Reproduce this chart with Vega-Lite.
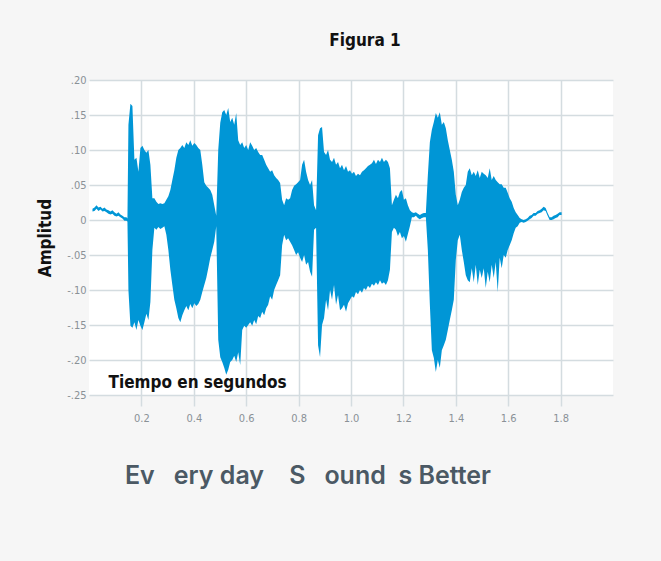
{
  "$schema": "https://vega.github.io/schema/vega-lite/v6.json",
  "background": "#f6f6f6",
  "padding": {"left": 36, "top": 32, "right": 49, "bottom": 50},
  "config": {
    "font": "DejaVu Sans Condensed, Liberation Sans Narrow, DejaVu Sans, sans-serif"
  },
  "spacing": 8,
  "vconcat": [
    {
      "width": 524,
      "height": 315,
      "title": {"text": "Figura 1", "fontSize": 17, "fontWeight": "bold", "color": "#111111", "frame": "group", "anchor": "middle", "dx": 14, "offset": 24},
      "view": {"fill": "white", "stroke": null},
      "data": {"values": [
        {"t":0.0133,"hi":0.016,"lo":0.012},{"t":0.0210,"hi":0.018,"lo":0.013},{"t":0.0286,"hi":0.021,"lo":0.016},{"t":0.0362,"hi":0.018,"lo":0.013},{"t":0.0438,"hi":0.019,"lo":0.015},{"t":0.0514,"hi":0.016,"lo":0.012},{"t":0.0590,"hi":0.018,"lo":0.013},{"t":0.0667,"hi":0.015,"lo":0.011},{"t":0.0743,"hi":0.014,"lo":0.009},{"t":0.0819,"hi":0.012,"lo":0.008},{"t":0.0895,"hi":0.014,"lo":0.009},{"t":0.0971,"hi":0.011,"lo":0.006},{"t":0.1048,"hi":0.009,"lo":0.005},{"t":0.1124,"hi":0.011,"lo":0.006},{"t":0.1200,"hi":0.008,"lo":0.004},{"t":0.1276,"hi":0.006,"lo":0.002},{"t":0.1352,"hi":0.004,"lo":-0.001},{"t":0.1429,"hi":0.004,"lo":-0.001},{"t":0.1467,"hi":0.002,"lo":-0.002},
        {"t":0.1505,"hi":0.136,"lo":-0.100},{"t":0.1581,"hi":0.166,"lo":-0.151},{"t":0.1657,"hi":0.163,"lo":-0.154},{"t":0.1733,"hi":0.086,"lo":-0.146},{"t":0.1810,"hi":0.089,"lo":-0.157},{"t":0.1886,"hi":0.069,"lo":-0.143},{"t":0.1962,"hi":0.103,"lo":-0.151},{"t":0.2038,"hi":0.106,"lo":-0.157},{"t":0.2114,"hi":0.100,"lo":-0.146},{"t":0.2190,"hi":0.096,"lo":-0.134},{"t":0.2267,"hi":0.100,"lo":-0.143},{"t":0.2343,"hi":0.079,"lo":-0.117},{"t":0.2419,"hi":0.031,"lo":-0.043},{"t":0.2495,"hi":0.031,"lo":-0.011},{"t":0.2571,"hi":0.026,"lo":-0.014},{"t":0.2648,"hi":0.023,"lo":-0.010},{"t":0.2724,"hi":0.024,"lo":-0.013},{"t":0.2800,"hi":0.023,"lo":-0.011},{"t":0.2876,"hi":0.024,"lo":-0.009},{"t":0.2952,"hi":0.029,"lo":-0.021},{"t":0.3029,"hi":0.034,"lo":-0.043},{"t":0.3105,"hi":0.043,"lo":-0.071},{"t":0.3181,"hi":0.057,"lo":-0.093},{"t":0.3257,"hi":0.071,"lo":-0.114},{"t":0.3333,"hi":0.089,"lo":-0.126},{"t":0.3410,"hi":0.100,"lo":-0.140},{"t":0.3486,"hi":0.103,"lo":-0.146},{"t":0.3562,"hi":0.107,"lo":-0.136},{"t":0.3638,"hi":0.103,"lo":-0.129},{"t":0.3714,"hi":0.111,"lo":-0.123},{"t":0.3790,"hi":0.107,"lo":-0.129},{"t":0.3867,"hi":0.114,"lo":-0.120},{"t":0.3943,"hi":0.106,"lo":-0.126},{"t":0.4019,"hi":0.110,"lo":-0.119},{"t":0.4095,"hi":0.107,"lo":-0.123},{"t":0.4171,"hi":0.103,"lo":-0.120},{"t":0.4248,"hi":0.100,"lo":-0.114},{"t":0.4324,"hi":0.079,"lo":-0.103},{"t":0.4400,"hi":0.054,"lo":-0.093},{"t":0.4476,"hi":0.049,"lo":-0.083},{"t":0.4552,"hi":0.046,"lo":-0.069},{"t":0.4629,"hi":0.043,"lo":-0.054},{"t":0.4705,"hi":0.036,"lo":-0.043},{"t":0.4781,"hi":0.021,"lo":-0.031},{"t":0.4857,"hi":0.006,"lo":-0.009},
        {"t":0.4933,"hi":0.100,"lo":-0.171},{"t":0.5010,"hi":0.139,"lo":-0.196},{"t":0.5086,"hi":0.154,"lo":-0.203},{"t":0.5162,"hi":0.157,"lo":-0.211},{"t":0.5238,"hi":0.150,"lo":-0.221},{"t":0.5314,"hi":0.160,"lo":-0.214},{"t":0.5390,"hi":0.140,"lo":-0.203},{"t":0.5467,"hi":0.146,"lo":-0.200},{"t":0.5543,"hi":0.136,"lo":-0.194},{"t":0.5619,"hi":0.153,"lo":-0.203},{"t":0.5695,"hi":0.114,"lo":-0.189},{"t":0.5771,"hi":0.107,"lo":-0.207},{"t":0.5848,"hi":0.111,"lo":-0.157},{"t":0.5924,"hi":0.103,"lo":-0.151},{"t":0.6000,"hi":0.107,"lo":-0.154},{"t":0.6076,"hi":0.100,"lo":-0.150},{"t":0.6152,"hi":0.111,"lo":-0.146},{"t":0.6229,"hi":0.106,"lo":-0.151},{"t":0.6305,"hi":0.100,"lo":-0.143},{"t":0.6381,"hi":0.103,"lo":-0.149},{"t":0.6457,"hi":0.097,"lo":-0.137},{"t":0.6533,"hi":0.093,"lo":-0.140},{"t":0.6610,"hi":0.093,"lo":-0.131},{"t":0.6686,"hi":0.086,"lo":-0.136},{"t":0.6762,"hi":0.079,"lo":-0.126},{"t":0.6838,"hi":0.074,"lo":-0.121},{"t":0.6914,"hi":0.069,"lo":-0.109},{"t":0.6990,"hi":0.071,"lo":-0.114},{"t":0.7067,"hi":0.064,"lo":-0.100},{"t":0.7143,"hi":0.060,"lo":-0.093},{"t":0.7219,"hi":0.057,"lo":-0.086},{"t":0.7295,"hi":0.053,"lo":-0.079},{"t":0.7371,"hi":0.029,"lo":-0.036},{"t":0.7448,"hi":0.021,"lo":-0.021},{"t":0.7524,"hi":0.031,"lo":-0.029},{"t":0.7600,"hi":0.029,"lo":-0.026},{"t":0.7676,"hi":0.031,"lo":-0.031},{"t":0.7752,"hi":0.043,"lo":-0.036},{"t":0.7829,"hi":0.049,"lo":-0.043},{"t":0.7905,"hi":0.051,"lo":-0.050},{"t":0.7981,"hi":0.054,"lo":-0.046},{"t":0.8057,"hi":0.057,"lo":-0.054},{"t":0.8133,"hi":0.079,"lo":-0.060},{"t":0.8210,"hi":0.086,"lo":-0.050},{"t":0.8286,"hi":0.069,"lo":-0.064},{"t":0.8362,"hi":0.057,"lo":-0.060},{"t":0.8438,"hi":0.050,"lo":-0.074},{"t":0.8514,"hi":0.057,"lo":-0.081},{"t":0.8590,"hi":0.021,"lo":-0.014},{"t":0.8667,"hi":0.014,"lo":-0.011},
        {"t":0.8743,"hi":0.121,"lo":-0.179},{"t":0.8819,"hi":0.131,"lo":-0.196},{"t":0.8895,"hi":0.133,"lo":-0.150},{"t":0.8971,"hi":0.097,"lo":-0.140},{"t":0.9048,"hi":0.093,"lo":-0.114},{"t":0.9124,"hi":0.100,"lo":-0.129},{"t":0.9200,"hi":0.086,"lo":-0.100},{"t":0.9276,"hi":0.083,"lo":-0.114},{"t":0.9352,"hi":0.089,"lo":-0.093},{"t":0.9429,"hi":0.079,"lo":-0.121},{"t":0.9505,"hi":0.083,"lo":-0.107},{"t":0.9581,"hi":0.074,"lo":-0.129},{"t":0.9657,"hi":0.079,"lo":-0.126},{"t":0.9733,"hi":0.071,"lo":-0.121},{"t":0.9810,"hi":0.077,"lo":-0.131},{"t":0.9886,"hi":0.069,"lo":-0.119},{"t":0.9962,"hi":0.071,"lo":-0.114},{"t":1.0038,"hi":0.066,"lo":-0.109},{"t":1.0114,"hi":0.069,"lo":-0.111},{"t":1.0190,"hi":0.063,"lo":-0.103},{"t":1.0267,"hi":0.066,"lo":-0.106},{"t":1.0343,"hi":0.064,"lo":-0.100},{"t":1.0419,"hi":0.069,"lo":-0.104},{"t":1.0495,"hi":0.071,"lo":-0.097},{"t":1.0571,"hi":0.074,"lo":-0.100},{"t":1.0648,"hi":0.077,"lo":-0.094},{"t":1.0724,"hi":0.079,"lo":-0.097},{"t":1.0800,"hi":0.081,"lo":-0.091},{"t":1.0876,"hi":0.086,"lo":-0.094},{"t":1.0952,"hi":0.080,"lo":-0.089},{"t":1.1029,"hi":0.086,"lo":-0.093},{"t":1.1105,"hi":0.083,"lo":-0.086},{"t":1.1181,"hi":0.089,"lo":-0.091},{"t":1.1257,"hi":0.083,"lo":-0.089},{"t":1.1333,"hi":0.086,"lo":-0.093},{"t":1.1410,"hi":0.083,"lo":-0.086},{"t":1.1486,"hi":0.074,"lo":-0.071},{"t":1.1562,"hi":0.021,"lo":-0.017},{"t":1.1638,"hi":0.029,"lo":-0.011},{"t":1.1714,"hi":0.036,"lo":-0.014},{"t":1.1790,"hi":0.031,"lo":-0.023},{"t":1.1867,"hi":0.040,"lo":-0.017},{"t":1.1943,"hi":0.043,"lo":-0.026},{"t":1.2019,"hi":0.029,"lo":-0.023},{"t":1.2095,"hi":0.031,"lo":-0.031},{"t":1.2171,"hi":0.021,"lo":-0.020},{"t":1.2248,"hi":0.014,"lo":-0.009},{"t":1.2324,"hi":0.011,"lo":0.004},{"t":1.2400,"hi":0.010,"lo":0.004},{"t":1.2476,"hi":0.011,"lo":0.006},{"t":1.2552,"hi":0.009,"lo":0.003},{"t":1.2629,"hi":0.007,"lo":0.001},{"t":1.2705,"hi":0.009,"lo":0.003},{"t":1.2781,"hi":0.010,"lo":0.004},{"t":1.2857,"hi":0.010,"lo":0.004},
        {"t":1.2933,"hi":0.064,"lo":-0.043},{"t":1.3010,"hi":0.111,"lo":-0.121},{"t":1.3086,"hi":0.129,"lo":-0.186},{"t":1.3162,"hi":0.140,"lo":-0.197},{"t":1.3238,"hi":0.153,"lo":-0.217},{"t":1.3314,"hi":0.146,"lo":-0.200},{"t":1.3390,"hi":0.154,"lo":-0.211},{"t":1.3467,"hi":0.136,"lo":-0.186},{"t":1.3543,"hi":0.140,"lo":-0.179},{"t":1.3619,"hi":0.131,"lo":-0.171},{"t":1.3695,"hi":0.114,"lo":-0.157},{"t":1.3771,"hi":0.100,"lo":-0.143},{"t":1.3848,"hi":0.086,"lo":-0.129},{"t":1.3924,"hi":0.069,"lo":-0.114},{"t":1.4000,"hi":0.036,"lo":-0.057},{"t":1.4076,"hi":0.021,"lo":-0.029},{"t":1.4152,"hi":0.029,"lo":-0.021},{"t":1.4229,"hi":0.040,"lo":-0.043},{"t":1.4305,"hi":0.046,"lo":-0.060},{"t":1.4381,"hi":0.050,"lo":-0.079},{"t":1.4457,"hi":0.069,"lo":-0.086},{"t":1.4533,"hi":0.074,"lo":-0.089},{"t":1.4610,"hi":0.064,"lo":-0.069},{"t":1.4686,"hi":0.069,"lo":-0.089},{"t":1.4762,"hi":0.063,"lo":-0.064},{"t":1.4838,"hi":0.071,"lo":-0.093},{"t":1.4914,"hi":0.060,"lo":-0.071},{"t":1.4990,"hi":0.069,"lo":-0.083},{"t":1.5067,"hi":0.066,"lo":-0.069},{"t":1.5143,"hi":0.064,"lo":-0.097},{"t":1.5219,"hi":0.060,"lo":-0.074},{"t":1.5295,"hi":0.074,"lo":-0.089},{"t":1.5371,"hi":0.057,"lo":-0.064},{"t":1.5448,"hi":0.063,"lo":-0.083},{"t":1.5524,"hi":0.057,"lo":-0.060},{"t":1.5600,"hi":0.054,"lo":-0.103},{"t":1.5676,"hi":0.051,"lo":-0.054},{"t":1.5752,"hi":0.051,"lo":-0.069},{"t":1.5829,"hi":0.046,"lo":-0.050},{"t":1.5905,"hi":0.046,"lo":-0.054},{"t":1.5981,"hi":0.039,"lo":-0.043},{"t":1.6057,"hi":0.031,"lo":-0.036},{"t":1.6133,"hi":0.026,"lo":-0.029},{"t":1.6210,"hi":0.017,"lo":-0.019},{"t":1.6286,"hi":0.011,"lo":-0.011},{"t":1.6362,"hi":0.007,"lo":-0.009},{"t":1.6438,"hi":0.003,"lo":-0.004},
        {"t":1.6514,"hi":0.001,"lo":-0.003},{"t":1.6590,"hi":0.000,"lo":-0.004},{"t":1.6667,"hi":0.001,"lo":-0.003},{"t":1.6743,"hi":0.003,"lo":-0.001},{"t":1.6819,"hi":0.006,"lo":0.001},{"t":1.6895,"hi":0.007,"lo":0.003},{"t":1.6971,"hi":0.010,"lo":0.006},{"t":1.7048,"hi":0.010,"lo":0.006},{"t":1.7124,"hi":0.013,"lo":0.009},{"t":1.7200,"hi":0.014,"lo":0.010},{"t":1.7276,"hi":0.016,"lo":0.011},{"t":1.7352,"hi":0.019,"lo":0.014},{"t":1.7429,"hi":0.017,"lo":0.013},{"t":1.7505,"hi":0.010,"lo":0.006},{"t":1.7581,"hi":0.004,"lo":0.000},{"t":1.7657,"hi":0.004,"lo":0.000},{"t":1.7733,"hi":0.006,"lo":0.001},{"t":1.7810,"hi":0.007,"lo":0.003},{"t":1.7886,"hi":0.009,"lo":0.004},{"t":1.7962,"hi":0.011,"lo":0.007},{"t":1.8038,"hi":0.011,"lo":0.007}
      ]},
      "mark": {"type": "area", "color": "#0096d6", "interpolate": "linear", "opacity": 1},
      "encoding": {
        "x": {
          "field": "t", "type": "quantitative",
          "scale": {"domain": [0, 2], "nice": false},
          "axis": {
            "values": [0.2, 0.4, 0.6, 0.8, 1.0, 1.2, 1.4, 1.6, 1.8],
            "format": ".1f",
            "title": "Tiempo en segundos",
            "domain": false,
            "grid": true, "gridColor": "#d4dce0", "gridWidth": 1.5,
            "ticks": true, "tickColor": "#d4dce0", "tickWidth": 1.5, "tickSize": 11,
            "labelColor": "#8a9196", "labelFontSize": 11, "labelPadding": 6,
            "titleX": 19, "titleY": -8, "titleAlign": "left", "titleBaseline": "alphabetic",
            "titleFontSize": 17, "titleFontWeight": "bold", "titleColor": "#111111"
          }
        },
        "y": {
          "field": "hi", "type": "quantitative",
          "scale": {"domain": [-0.25, 0.2], "nice": false, "zero": false},
          "axis": {
            "values": [-0.25, -0.2, -0.15, -0.1, -0.05, 0, 0.05, 0.1, 0.15, 0.2],
            "labelExpr": "datum.value == 0 ? '0' : (datum.value < 0 ? '-' : '') + replace(format(abs(datum.value), '.2f'), '0.', '.')",
            "title": "Amplitud",
            "domain": false, "ticks": false,
            "grid": true, "gridColor": "#d4dce0", "gridWidth": 1.5,
            "labelColor": "#8a9196", "labelFontSize": 11, "labelPadding": 3,
            "titleFontSize": 17, "titleFontWeight": "bold", "titleColor": "#111111", "titlePadding": 12
          }
        },
        "y2": {"field": "lo"}
      }
    },
    {
      "width": 524,
      "height": 90,
      "view": {"fill": null, "stroke": null},
      "data": {"values": [{"label": "Ev\u00a0\u00a0 ery day\u00a0\u00a0\u00a0 S\u00a0\u00a0 ound\u00a0 s Better"}]},
      "mark": {"type": "text", "font": "Inter", "fontWeight": 600, "fontSize": 25, "color": "#4b5964", "align": "center", "baseline": "middle", "dx": -43},
      "encoding": {"text": {"field": "label", "type": "nominal"}}
    }
  ]
}
